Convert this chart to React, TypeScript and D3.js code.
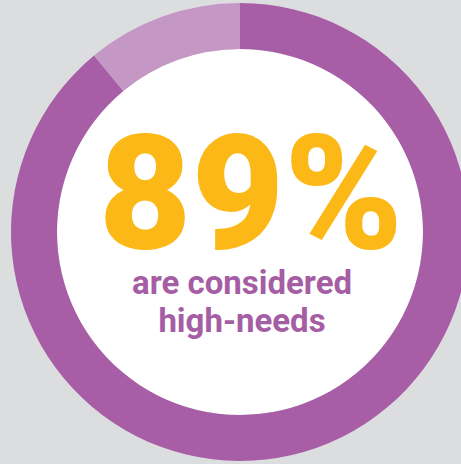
import React from "react";
import * as d3 from "d3";

const categories = ["High-needs", "Other"];
const values = [89, 11];
const colors = ["#a85ea6", "#c597c5"];
const bigLabel = "89%";
const subLines = ["are considered", "high-needs"];

export default function App() {
  const W = 461, H = 464;
  const cx = 240, cy = 232;
  const pie = d3.pie<number>().sort(null).value((d) => d);
  const arcs = pie(values);
  const arc = d3.arc<d3.PieArcDatum<number>>().innerRadius(183).outerRadius(229);
  return (
    <svg width={W} height={H} style={{ position: "absolute", left: 0, top: 0, background: "#dcdddf" }}>
      <rect width={W} height={H} fill="#dcdddf" />
      <g transform={`translate(${cx},${cy})`}>
        <circle r={183} fill="#ffffff" />
        {arcs.map((a, i) => (
          <path key={categories[i]} d={arc(a) || ""} fill={colors[i]} />
        ))}
        <text
          x={11}
          y={16}
          textAnchor="middle"
          fill="#fbb816"
          fontFamily="Roboto, 'DejaVu Sans', sans-serif"
          fontWeight={900}
          fontSize={160}
        >
          {bigLabel}
        </text>
        {subLines.map((s, i) => (
          <text
            key={s}
            x={2}
            y={62 + i * 38}
            textAnchor="middle"
            fill="#a55ea4"
            fontFamily="Roboto, 'DejaVu Sans', sans-serif"
            fontWeight={700}
            fontSize={33}
          >
            {s}
          </text>
        ))}
      </g>
    </svg>
  );
}
